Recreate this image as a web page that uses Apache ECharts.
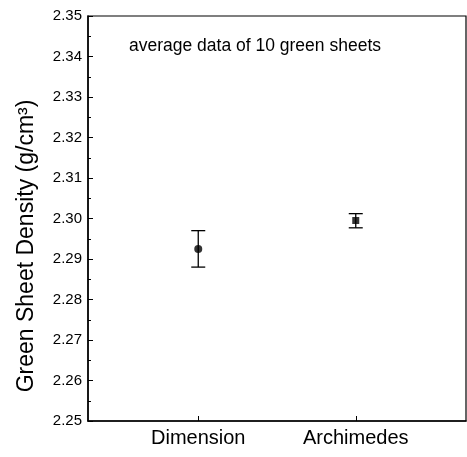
<!DOCTYPE html>
<html>
<head>
<meta charset="utf-8">
<script src="https://cdn.jsdelivr.net/npm/echarts@6/dist/echarts.min.js"></script>
<style>html,body{margin:0;padding:0;background:#fff}#c{width:467px;height:457px}</style>
</head>
<body>
<div id="c"></div>
<script>
var categories = ['Dimension', 'Archimedes'];
var categoryPositions = [1, 2];
var meanValues = [2.2925, 2.2995];
var lowValues = [2.2880, 2.2977];
var highValues = [2.2970, 2.3012];
var markerShapes = ['circle', 'rect'];
var yTicks = [2.25, 2.26, 2.27, 2.28, 2.29, 2.30, 2.31, 2.32, 2.33, 2.34, 2.35];
var annotation = 'average data of 10 green sheets';
var yTitle = 'Green Sheet Density (g/cm\u00B3)';

var FONT = 'Liberation Sans, Arial, sans-serif';
var chart = echarts.init(document.getElementById('c'));

var pointData = categoryPositions.map(function (x, i) {
  return { value: [x, meanValues[i]], symbol: markerShapes[i], symbolSize: markerShapes[i] === 'rect' ? 7 : 8 };
});
var errData = categoryPositions.map(function (x, i) {
  return [x, lowValues[i], highValues[i]];
});

chart.setOption({
  animation: false,
  backgroundColor: '#fff',
  grid: { left: 88, right: 1, top: 16, bottom: 36, show: true, borderColor: '#000', borderWidth: 1.2, backgroundColor: 'transparent' },
  xAxis: {
    type: 'value', min: 0.3, max: 2.7,
    axisLine: { show: true, lineStyle: { color: '#000', width: 1.5 } },
    axisTick: { show: true, inside: true, length: 5, lineStyle: { color: '#000' }, customValues: categoryPositions },
    axisLabel: {
      customValues: categoryPositions,
      formatter: function (v) { var i = categoryPositions.indexOf(v); return i >= 0 ? categories[i] : ''; },
      color: '#000', fontSize: 20, fontFamily: FONT, margin: 7
    },
    splitLine: { show: false }
  },
  yAxis: {
    type: 'value', min: yTicks[0], max: yTicks[yTicks.length - 1], interval: 0.01,
    axisLine: { show: true, lineStyle: { color: '#000', width: 1.5 } },
    axisTick: { show: true, inside: true, length: 5, lineStyle: { color: '#000' } },
    minorTick: { show: true, splitNumber: 2, length: 3, lineStyle: { color: '#000' } },
    axisLabel: { color: '#000', fontSize: 15, fontFamily: FONT, margin: 6, formatter: function (v) { return v.toFixed(2); } },
    splitLine: { show: false }
  },
  graphic: [
    { type: 'text', x: 27, y: 246, rotation: Math.PI / 2,
      style: { text: yTitle, fill: '#000', font: '23px ' + FONT, textAlign: 'center', textVerticalAlign: 'middle' } },
    { type: 'text', x: 129, y: 46,
      style: { text: annotation, fill: '#000', font: '17.5px ' + FONT, textAlign: 'left', textVerticalAlign: 'middle' } }
  ],
  series: [
    {
      type: 'custom',
      data: errData,
      renderItem: function (params, api) {
        var x = api.value(0);
        var lo = api.coord([x, api.value(1)]);
        var hi = api.coord([x, api.value(2)]);
        var w = 7;
        var st = { stroke: '#000', lineWidth: 1.3 };
        return { type: 'group', children: [
          { type: 'line', shape: { x1: lo[0], y1: lo[1], x2: hi[0], y2: hi[1] }, style: st },
          { type: 'line', shape: { x1: lo[0] - w, y1: lo[1], x2: lo[0] + w, y2: lo[1] }, style: st },
          { type: 'line', shape: { x1: hi[0] - w, y1: hi[1], x2: hi[0] + w, y2: hi[1] }, style: st }
        ] };
      },
      z: 2
    },
    {
      type: 'scatter',
      data: pointData,
      itemStyle: { color: '#000' },
      z: 3
    }
  ]
});
</script>
</body>
</html>
